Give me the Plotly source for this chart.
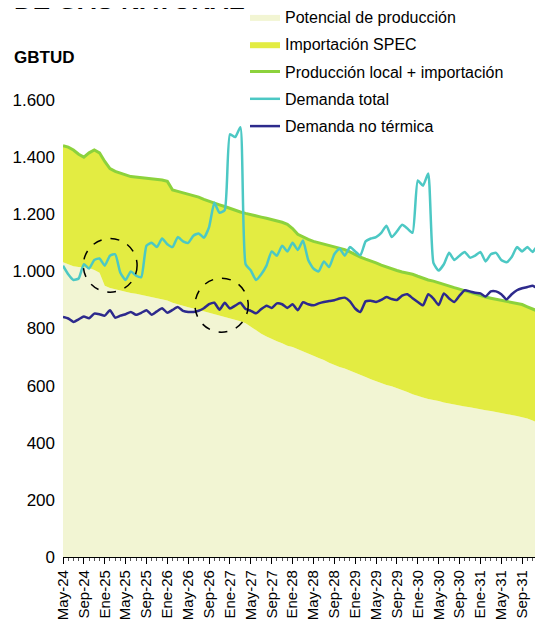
import plotly.graph_objects as go

# Month index 0 = May-24 ... 92 = Ene-32
tick_vals = list(range(0, 89, 4))
tick_text = ["May-24", "Sep-24", "Ene-25", "May-25", "Sep-25", "Ene-26", "May-26",
             "Sep-26", "Ene-27", "May-27", "Sep-27", "Ene-28", "May-28", "Sep-28",
             "Ene-29", "May-29", "Sep-29", "Ene-30", "May-30", "Sep-30", "Ene-31",
             "May-31", "Sep-31"]
y_tick_vals = [0, 200, 400, 600, 800, 1000, 1200, 1400, 1600]
y_tick_text = ["0", "200", "400", "600", "800", "1.000", "1.200", "1.400", "1.600"]

potencial = [
    1032, 1025, 1018, 1015, 1013, 1012, 1005, 995, 950, 942,
    937, 932, 927, 924, 922, 918, 915, 911, 908, 904,
    898, 890, 884, 878, 874, 870, 865, 860, 855, 850,
    847, 842, 836, 830, 825, 818, 805, 793, 782, 772,
    762, 755, 748, 740, 735, 728, 720, 712, 705, 697,
    690, 680, 672, 665, 660, 653, 646, 638, 630, 622,
    615, 608, 602, 598, 592, 585, 578, 570, 563, 558,
    553, 550, 546, 541, 537, 533, 530, 527, 524, 520,
    517, 514, 511, 507, 503, 500, 497, 494, 490, 485,
    478, 470, 461]

produccion_mas_importacion = [
    1440, 1435, 1425, 1410, 1400, 1415, 1425, 1415, 1385, 1360,
    1350, 1345, 1338, 1332, 1330, 1328, 1326, 1324, 1322, 1320,
    1315, 1285, 1280, 1275, 1270, 1265, 1260, 1252, 1245, 1240,
    1233, 1227, 1220, 1215, 1208, 1203, 1198, 1195, 1190, 1186,
    1182, 1178, 1172, 1165, 1150, 1130, 1120, 1112, 1105, 1100,
    1095, 1090, 1087, 1082, 1076, 1068, 1058, 1050, 1043, 1037,
    1030, 1022, 1015, 1008, 1003, 998, 994, 990, 983, 976,
    970, 966, 960, 953, 948, 943, 938, 932, 926, 920,
    915, 910, 906, 902, 898, 895, 892, 888, 884, 876,
    868, 860, 853]

demanda_total = [
    1020, 990, 970, 975, 1025, 1010, 1040, 1045, 1020, 1055,
    1060, 995, 970, 1000, 985, 980, 1090, 1100, 1085, 1115,
    1095, 1085, 1120, 1105, 1100, 1125, 1133, 1118, 1155, 1240,
    1205, 1215, 1480, 1470, 1505, 1025, 1003, 970, 990, 1020,
    1070, 1055, 1090, 1070, 1100, 1075, 1108, 1040, 1010, 1000,
    1035, 1015, 1060, 1080, 1055, 1085, 1070, 1056, 1105, 1115,
    1120, 1135, 1160, 1120, 1140, 1163, 1150, 1135, 1318, 1300,
    1343, 1030, 1003, 1025, 1065, 1040, 1055, 1068, 1048, 1055,
    1068, 1035, 1060, 1065, 1040, 1032, 1050, 1085, 1070, 1085,
    1068, 1090, 1073]

demanda_no_termica = [
    840, 835, 823, 832, 842, 836, 852, 850, 845, 864,
    838, 845, 850, 858, 848, 855, 864, 848, 860, 871,
    855, 865, 875, 862, 858, 858, 862, 871, 885, 890,
    866, 890, 870, 880, 890, 868, 862, 853, 868, 880,
    872, 888, 885, 872, 885, 864, 892, 885, 881, 888,
    893, 896, 899, 905, 908, 895, 870, 858, 895, 897,
    893, 900, 910, 903, 900, 915, 920, 906, 893, 881,
    920, 905, 882, 923, 905, 893, 915, 934, 930, 925,
    923, 912, 930, 930, 920, 902, 920, 934, 941, 945,
    950, 941, 958]

months = list(range(len(potencial)))

FONT = "Liberation Sans, Arial, sans-serif"

fig = go.Figure()
fig.add_trace(go.Scatter(
    x=months, y=potencial, name="Potencial de producción",
    mode="lines", line=dict(width=0, color="#F2F5D3"),
    fill="tozeroy", fillcolor="#F2F5D3", legendgroup="a"))
fig.add_trace(go.Scatter(
    x=months, y=produccion_mas_importacion, name="Importación SPEC",
    mode="lines", line=dict(width=0, color="#E3EC42"),
    fill="tonexty", fillcolor="#E3EC42", legendgroup="b"))
fig.add_trace(go.Scatter(
    x=months, y=produccion_mas_importacion, name="Producción local + importación",
    mode="lines", line=dict(width=3, color="#8CD23C"), legendgroup="c"))
fig.add_trace(go.Scatter(
    x=months, y=demanda_total, name="Demanda total",
    mode="lines", line=dict(width=2.5, color="#4CC8C4", shape="spline", smoothing=0.5),
    legendgroup="d"))
fig.add_trace(go.Scatter(
    x=months, y=demanda_no_termica, name="Demanda no térmica",
    mode="lines", line=dict(width=2.5, color="#2D2A8C", shape="spline", smoothing=0.5),
    legendgroup="e"))

# dashed highlight circles (data coordinates)
circles = [(3.9, 14.2, 927, 1115), (25.3, 35.5, 787, 976)]
for x0, x1, y0, y1 in circles:
    fig.add_shape(type="circle", xref="x", yref="y", x0=x0, x1=x1, y0=y0, y1=y1,
                  line=dict(color="black", width=1.5, dash="dash"))

# The page body adds an 8px offset; paper positions below are relative to the plot area
fig.add_annotation(text="<b>DE GAS NATURAL</b>", xref="paper", yref="paper",
                   x=(12 - 63) / 480, y=1 + (100 - 17) / 457, xanchor="left", yanchor="bottom",
                   showarrow=False, font=dict(family=FONT, size=26, color="black"))
fig.add_annotation(text="<b>GBTUD</b>", xref="paper", yref="paper",
                   x=(12 - 63) / 480, y=(557 - 57) / 457, xanchor="left", yanchor="middle",
                   showarrow=False, font=dict(family=FONT, size=17, color="black"))

fig.update_layout(
    width=543, height=628,
    margin=dict(l=55, r=8, t=92, b=79, autoexpand=False),
    paper_bgcolor="white", plot_bgcolor="white",
    font=dict(family=FONT, size=16, color="black"),
    showlegend=True,
    legend=dict(x=(245 - 63) / 480, y=557 / 457, xanchor="left", yanchor="top",
                bgcolor="rgba(0,0,0,0)", font=dict(size=16), tracegroupgap=3.5,
                traceorder="grouped"),
    xaxis=dict(range=[0, 92], tickvals=tick_vals, ticktext=tick_text, tickangle=-90,
               ticks="outside", ticklen=6, tickcolor="black", tickwidth=1,
               showline=True, linecolor="black", linewidth=1.2, automargin=False,
               showgrid=False, zeroline=False, tickfont=dict(size=15),
               minor=dict(dtick=1, tick0=0, ticks="outside", ticklen=3,
                          tickcolor="#555", tickwidth=1, showgrid=False)),
    yaxis=dict(range=[0, 1600], tickvals=y_tick_vals, ticktext=y_tick_text,
               showgrid=False, zeroline=False, showline=False, ticks="",
               automargin=False, ticklabelstandoff=7, tickfont=dict(size=17)),
)

fig.write_html("out.html")
